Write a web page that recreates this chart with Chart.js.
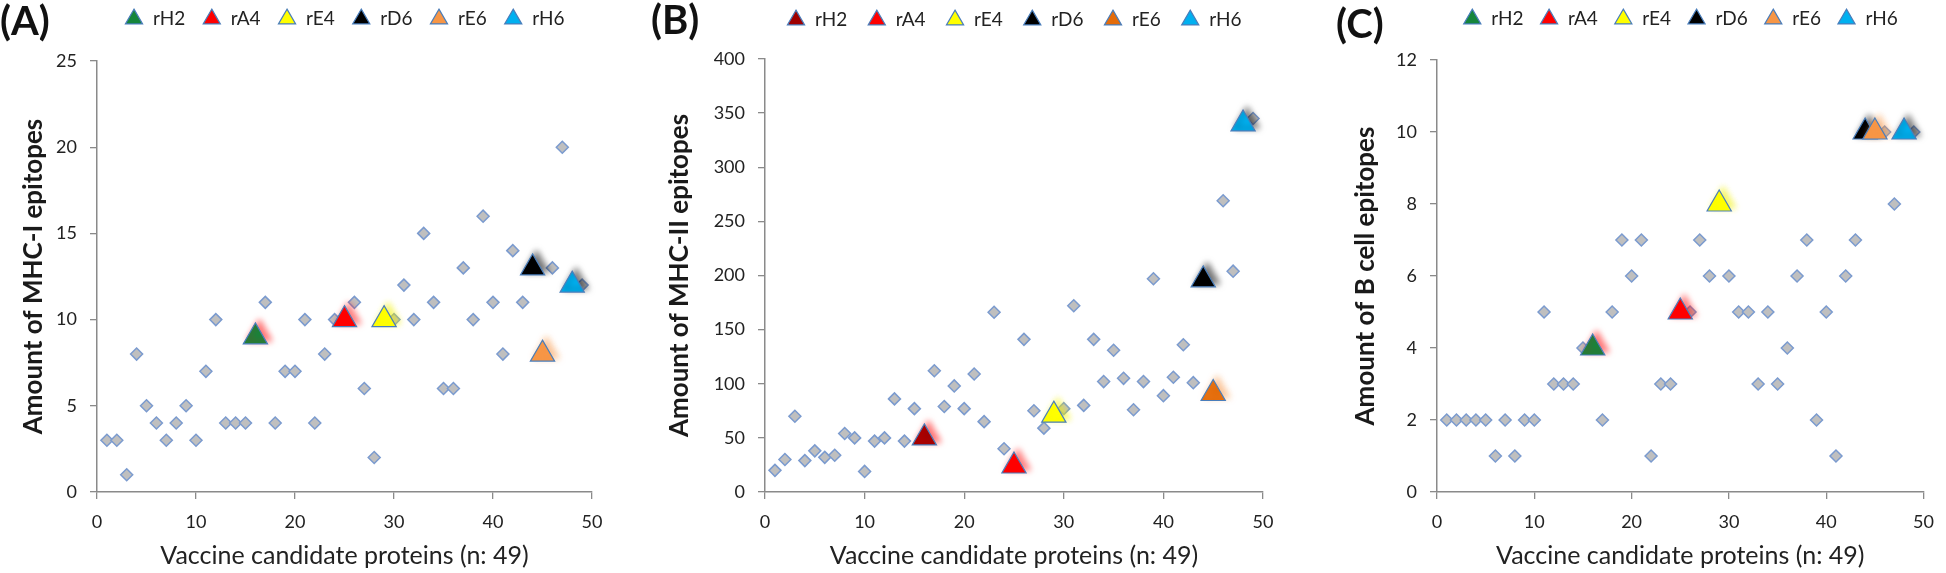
<!DOCTYPE html>
<html>
<head>
<meta charset="utf-8">
<script src="https://cdn.jsdelivr.net/npm/chart.js@4.4.1/dist/chart.umd.min.js"></script>
<style>
  body { margin: 0; background: #fff; }
  #wrap { position: relative; width: 1946px; height: 573px; overflow: hidden; }
  .panel { position: absolute; top: 0; height: 573px; }
  .tag { position: absolute; font: bold 40px Lato, sans-serif; color: #111; }
</style>
</head>
<body>
<div id="wrap">
  <div class="panel" style="left:0;width:640px"><canvas id="chartA"></canvas></div>
  <div class="panel" style="left:640px;width:660px"><canvas id="chartB"></canvas></div>
  <div class="panel" style="left:1300px;width:646px"><canvas id="chartC"></canvas></div>
  <div class="tag" style="left:0;top:-4px">(A)</div>
  <div class="tag" style="left:651px;top:-5px">(B)</div>
  <div class="tag" style="left:1336px;top:-1px">(C)</div>
</div>
<script>
// protein index 1..49
let proteinIds = [1,2,3,4,5,6,7,8,9,10,11,12,13,14,15,16,17,18,19,20,21,22,23,24,25,
  26,27,28,29,30,31,32,33,34,35,36,37,38,39,40,41,42,43,44,45,46,47,48,49]

// highlighted vaccine candidates and their position in the list
let candidates = ['rH2', 'rA4', 'rE4', 'rD6', 'rE6', 'rH6']
let candidateIds = [16, 25, 29, 44, 45, 48]

// epitope counts per protein
let mhc1 = [3,3,1,8,5,4,3,4,5,3,7,10,4,4,4,9,11,4,7,7,10,4,8,10,10,
  11,6,2,10,10,12,10,15,11,6,6,13,10,16,11,8,14,11,13,8,13,20,12,12]
let mhc2 = [20,30,70,29,38,32,34,54,50,19,47,50,86,47,77,50,112,79,98,77,109,65,166,40,24,
  141,75,59,71,77,172,80,141,102,131,105,76,102,197,89,106,136,101,196,91,269,204,340,345]
let bcell = [2,2,2,2,2,1,2,1,2,2,5,3,3,3,4,4,2,5,7,6,7,1,3,3,5,
  5,7,6,8,6,5,5,3,5,3,4,6,7,2,5,1,6,7,10,10,10,8,10,10]

let yTicksA = [0, 25, 5]
let yTicksB = [0, 400, 50]
let yTicksC = [0, 12, 2]

let colorsA = ['#15853b', '#ff0000', '#ffff00', '#000000', '#f79646', '#00b0f0']
let colorsB = ['#a00000', '#ff0000', '#ffff00', '#000000', '#e46c0a', '#00b0f0']
let glowA = ['rgba(255,0,0,0.55)', 'rgba(255,0,0,0.5)', 'rgba(240,240,0,0.6)', 'rgba(0,0,0,0.55)', 'rgba(247,150,70,0.55)', 'rgba(0,0,0,0.5)']

const font = 'Lato'
const axisGrey = '#8a8a8a'

// soft glow behind the triangles
const glowPlugin = {
  id: 'glow',
  beforeDatasetDraw(chart, args) {
    let ds = chart.data.datasets[args.index]
    if (!ds.glow) return
    chart.ctx.save()
    chart.ctx.shadowColor = ds.glow
    chart.ctx.shadowBlur = 6
    chart.ctx.shadowOffsetX = 4
    chart.ctx.shadowOffsetY = -3
  },
  afterDatasetDraw(chart, args) {
    if (chart.data.datasets[args.index].glow) chart.ctx.restore()
  }
}

// add room under the legend
function legendGap(extra) {
  return {
    id: 'legendGap',
    beforeInit(chart) {
      let fit = chart.legend.fit
      chart.legend.fit = function () {
        fit.bind(this)()
        this.height += extra
      }
    }
  }
}

function makeChart(id, values, yTicks, yTitle, colors, pad, yWidth, legendPad, gap) {
  let datasets = candidates.map((name, i) => ({
    label: name,
    data: [{x: candidateIds[i], y: values[candidateIds[i] - 1]}],
    pointStyle: 'triangle',
    pointRadius: 14,
    backgroundColor: colors[i],
    borderColor: '#4a7ebb',
    borderWidth: 1.2,
    glow: glowA[i],
    order: 6 - i
  }))
  datasets.push({
    label: 'proteins',
    data: proteinIds.filter(p => !candidateIds.includes(p)).map(p => ({x: p, y: values[p - 1]})),
    pointStyle: 'rectRot',
    pointRadius: 6,
    backgroundColor: '#bfbfbf',
    borderColor: '#7b9bcf',
    borderWidth: 1.5,
    order: 10
  })

  return new Chart(document.getElementById(id), {
    type: 'scatter',
    data: {datasets: datasets},
    options: {
      responsive: true,
      maintainAspectRatio: false,
      animation: false,
      layout: {padding: pad},
      elements: {point: {hoverRadius: 14}},
      datasets: {scatter: {clip: false}},
      plugins: {
        tooltip: {enabled: false},
        legend: {
          position: 'top',
          fullSize: false,
          labels: {
            usePointStyle: true,
            boxHeight: 14,
            padding: legendPad,
            color: '#222',
            font: {family: font, size: 19},
            filter: item => item.text !== 'proteins',
            sort: (a, b) => a.datasetIndex - b.datasetIndex
          }
        }
      },
      scales: {
        x: {
          type: 'linear',
          min: 0,
          max: 50,
          afterFit: s => { s.height = 81 },
          ticks: {stepSize: 10, padding: 12, color: '#222', font: {family: font, size: 18}},
          grid: {drawOnChartArea: false, tickLength: 7, color: axisGrey, lineWidth: 1.3},
          border: {color: axisGrey, width: 1.5},
          title: {display: true, text: 'Vaccine candidate proteins (n: 49)', color: '#222',
                  font: {family: font, size: 25}, padding: {top: 0, bottom: 2}}
        },
        y: {
          min: yTicks[0],
          max: yTicks[1],
          afterFit: s => { s.width = yWidth },
          ticks: {stepSize: yTicks[2], padding: 13, color: '#222', font: {family: font, size: 18}},
          grid: {drawOnChartArea: false, tickLength: 7, color: axisGrey, lineWidth: 1.3},
          border: {color: axisGrey, width: 1.5},
          title: {display: true, text: yTitle, color: '#1a1a1a',
                  font: {family: font, size: 26, weight: 'bold'}, padding: 0}
        }
      }
    },
    plugins: [glowPlugin, legendGap(gap)]
  })
}

makeChart('chartA', mhc1, yTicksA, 'Amount of MHC-I epitopes', colorsA,
  {left: 18, right: 48, top: -7.5, bottom: 0}, 79, 17, 22.5)
makeChart('chartB', mhc2, yTicksB, 'Amount of MHC-II epitopes', colorsB,
  {left: 24, right: 37, top: -9.5, bottom: 0}, 101, 20, 19.5)
makeChart('chartC', bcell, yTicksC, 'Amount of B cell epitopes', colorsA,
  {left: 50, right: 12, top: -6.5, bottom: 0}, 87, 16, 21.5)
</script>
</body>
</html>
